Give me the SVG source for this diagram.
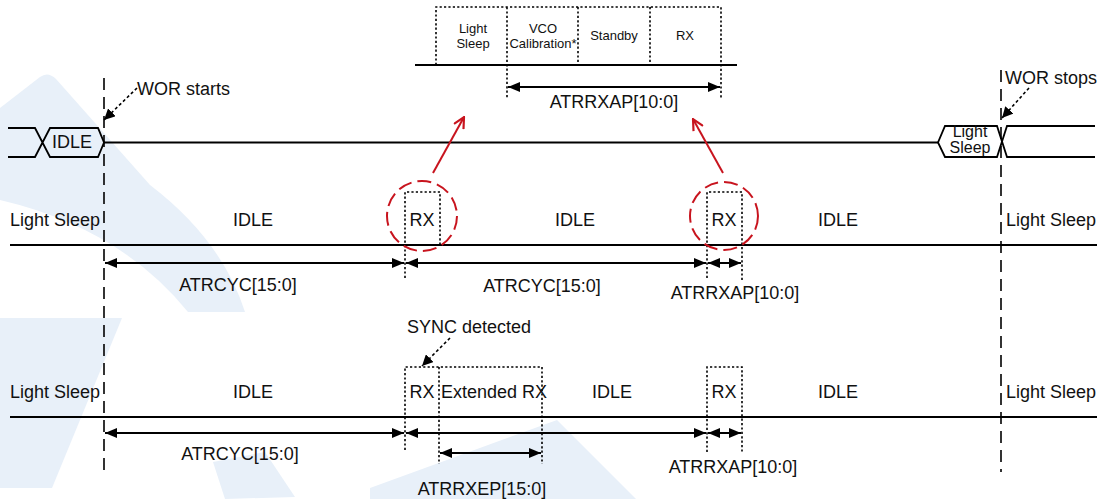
<svg xmlns="http://www.w3.org/2000/svg" width="1102" height="499" viewBox="0 0 1102 499">
<style>
  text { font-family: "Liberation Sans", Arial, sans-serif; fill: #111; }
  .t18 { font-size: 18px; }
  .t16 { font-size: 16px; }
  .t13 { font-size: 13px; }
  .mid { text-anchor: middle; }
  .solid { stroke: #000; stroke-width: 1.8; fill: none; }
  .dot { stroke: #000; stroke-width: 1.6; stroke-dasharray: 2.2 2.2; fill: none; }
  .wor { stroke: #000; stroke-width: 1.6; stroke-dasharray: 12 7; fill: none; }
  .dim { stroke: #000; stroke-width: 1.8; fill: none; marker-start: url(#ah); marker-end: url(#ah); }
  .ptr { stroke: #000; stroke-width: 1.6; stroke-dasharray: 3 2.5; fill: none; marker-end: url(#ahp); }
  .ring { stroke: #c8141e; stroke-width: 2; stroke-dasharray: 14 6; fill: none; }
  .redarr { stroke: #c8141e; stroke-width: 2; fill: none; marker-end: url(#ahr); }
  .wm { fill: #e8f0f9; stroke: none; }
</style>
<defs>
  <marker id="ah" viewBox="0 0 12 10" refX="12" refY="5" markerWidth="12" markerHeight="10" markerUnits="userSpaceOnUse" orient="auto-start-reverse">
    <path d="M0,0 L12,5 L0,10 Z" fill="#000"/>
  </marker>
  <marker id="ahp" viewBox="0 0 10 10" refX="10" refY="5" markerWidth="11" markerHeight="11" markerUnits="userSpaceOnUse" orient="auto">
    <path d="M0,0 L10,5 L0,10 Z" fill="#000"/>
  </marker>
  <marker id="ahr" viewBox="-1 -1 12 12" refX="10" refY="5" markerWidth="13" markerHeight="13" markerUnits="userSpaceOnUse" orient="auto">
    <path d="M0,0 L10,5 L0,10" fill="none" stroke="#c8141e" stroke-width="2"/>
  </marker>
</defs>
<rect width="1102" height="499" fill="#fff"/>
<g id="watermark">
  <path class="wm" d="M0,108 L40,77 Q48,71 56,79 L150,185 Q222,240 245,312 L188,312 Q120,228 0,200 Z"/>
  <path class="wm" d="M0,318 L122,318 L52,488 L0,488 Z"/>
  <path class="wm" d="M213,462 L265,452 L295,497 L225,499 Z"/>
  <path class="wm" d="M557,420 L636,499 L370,499 L370,488 Z"/>
</g>

<g id="detail-sequence">
  <line class="solid" x1="415" y1="65" x2="737" y2="65"/>
  <path class="dot" d="M436,65 V7 H721 V98 M507,7 V98 M578,7 V65 M650,7 V65"/>
  <text class="t13 mid" x="473" y="33">Light<tspan x="473" dy="15">Sleep</tspan></text>
  <text class="t13 mid" x="543" y="33">VCO<tspan x="543" dy="15">Calibration*</tspan></text>
  <text class="t13 mid" x="614" y="40">Standby</text>
  <text class="t13 mid" x="685" y="40">RX</text>
  <text class="t18 mid" x="614" y="108">ATRRXAP[10:0]</text>
</g>

<g id="wor-start">
  <line class="wor" x1="104" y1="78" x2="104" y2="476"/>
  <text class="t18" x="137" y="95">WOR starts</text>
</g>
<g id="wor-stop">
  <line class="wor" x1="1001" y1="70" x2="1001" y2="472"/>
  <text class="t18" x="1005" y="84">WOR stops</text>
</g>

<g id="state-bus">
  <path class="solid" d="M8,128 H35 L50,157 H98 L104,142.5 L98,128 H50 L35,157 H8"/>
  <line class="solid" x1="104" y1="142.5" x2="938" y2="142.5"/>
  <path class="solid" d="M1095,126 H1007 L997,157 H945 L938,142.5 L945,126 H997 L1007,157 H1095"/>
  <text class="t18 mid" x="72" y="148">IDLE</text>
  <text class="t16 mid" x="970" y="137">Light<tspan x="970" dy="16">Sleep</tspan></text>
</g>

<g id="timeline-normal">
  <line class="solid" x1="10" y1="245" x2="1097" y2="245"/>
  <path class="dot" d="M405,278 V192 H440 V245"/>
  <path class="dot" d="M707,278 V192 H742 V280"/>
  <text class="t18" x="10" y="226">Light Sleep</text>
  <text class="t18 mid" x="253" y="226">IDLE</text>
  <text class="t18 mid" x="422" y="226">RX</text>
  <text class="t18 mid" x="575" y="226">IDLE</text>
  <text class="t18 mid" x="724" y="226">RX</text>
  <text class="t18 mid" x="838" y="226">IDLE</text>
  <text class="t18" x="1006" y="226">Light Sleep</text>
  <text class="t18 mid" x="238" y="291">ATRCYC[15:0]</text>
  <text class="t18 mid" x="542" y="292">ATRCYC[15:0]</text>
  <text class="t18 mid" x="735" y="299">ATRRXAP[10:0]</text>
</g>

<g id="timeline-sync">
  <line class="solid" x1="10" y1="417" x2="1097" y2="417"/>
  <path class="dot" d="M405,450 V367 H542 V464 M439,367 V464"/>
  <path class="dot" d="M707,452 V367 H742 V452"/>
  <text class="t18" x="10" y="398">Light Sleep</text>
  <text class="t18 mid" x="253" y="398">IDLE</text>
  <text class="t18 mid" x="422" y="398">RX</text>
  <text class="t18" x="441" y="398">Extended RX</text>
  <text class="t18 mid" x="612" y="398">IDLE</text>
  <text class="t18 mid" x="724" y="398">RX</text>
  <text class="t18 mid" x="838" y="398">IDLE</text>
  <text class="t18" x="1006" y="398">Light Sleep</text>
  <text class="t18" x="407" y="333">SYNC detected</text>
  <text class="t18 mid" x="240" y="460">ATRCYC[15:0]</text>
  <text class="t18 mid" x="482" y="495">ATRRXEP[15:0]</text>
  <text class="t18 mid" x="733" y="473">ATRRXAP[10:0]</text>
</g>

<g id="highlights">
  <circle class="ring" cx="422" cy="216" r="35"/>
  <circle class="ring" cx="724" cy="216" r="34"/>
</g>

<g id="connectors">
  <line class="dim" x1="508" y1="87" x2="720" y2="87"/>
  <line class="ptr" x1="137" y1="88" x2="104" y2="120"/>
  <line class="ptr" x1="1029" y1="88" x2="1002" y2="118"/>
  <line class="ptr" x1="450" y1="338" x2="422" y2="366"/>
  <line class="redarr" x1="433" y1="173" x2="464" y2="117"/>
  <line class="redarr" x1="723" y1="173" x2="693" y2="119"/>
  <line class="dim" x1="105" y1="263" x2="404" y2="263"/>
  <line class="dim" x1="406" y1="263" x2="706" y2="263"/>
  <line class="dim" x1="708" y1="263" x2="741" y2="263"/>
  <line class="dim" x1="105" y1="433" x2="404" y2="433"/>
  <line class="dim" x1="406" y1="433" x2="706" y2="433"/>
  <line class="dim" x1="708" y1="433" x2="741" y2="433"/>
  <line class="dim" x1="440" y1="453" x2="541" y2="453"/>
</g>
</svg>
